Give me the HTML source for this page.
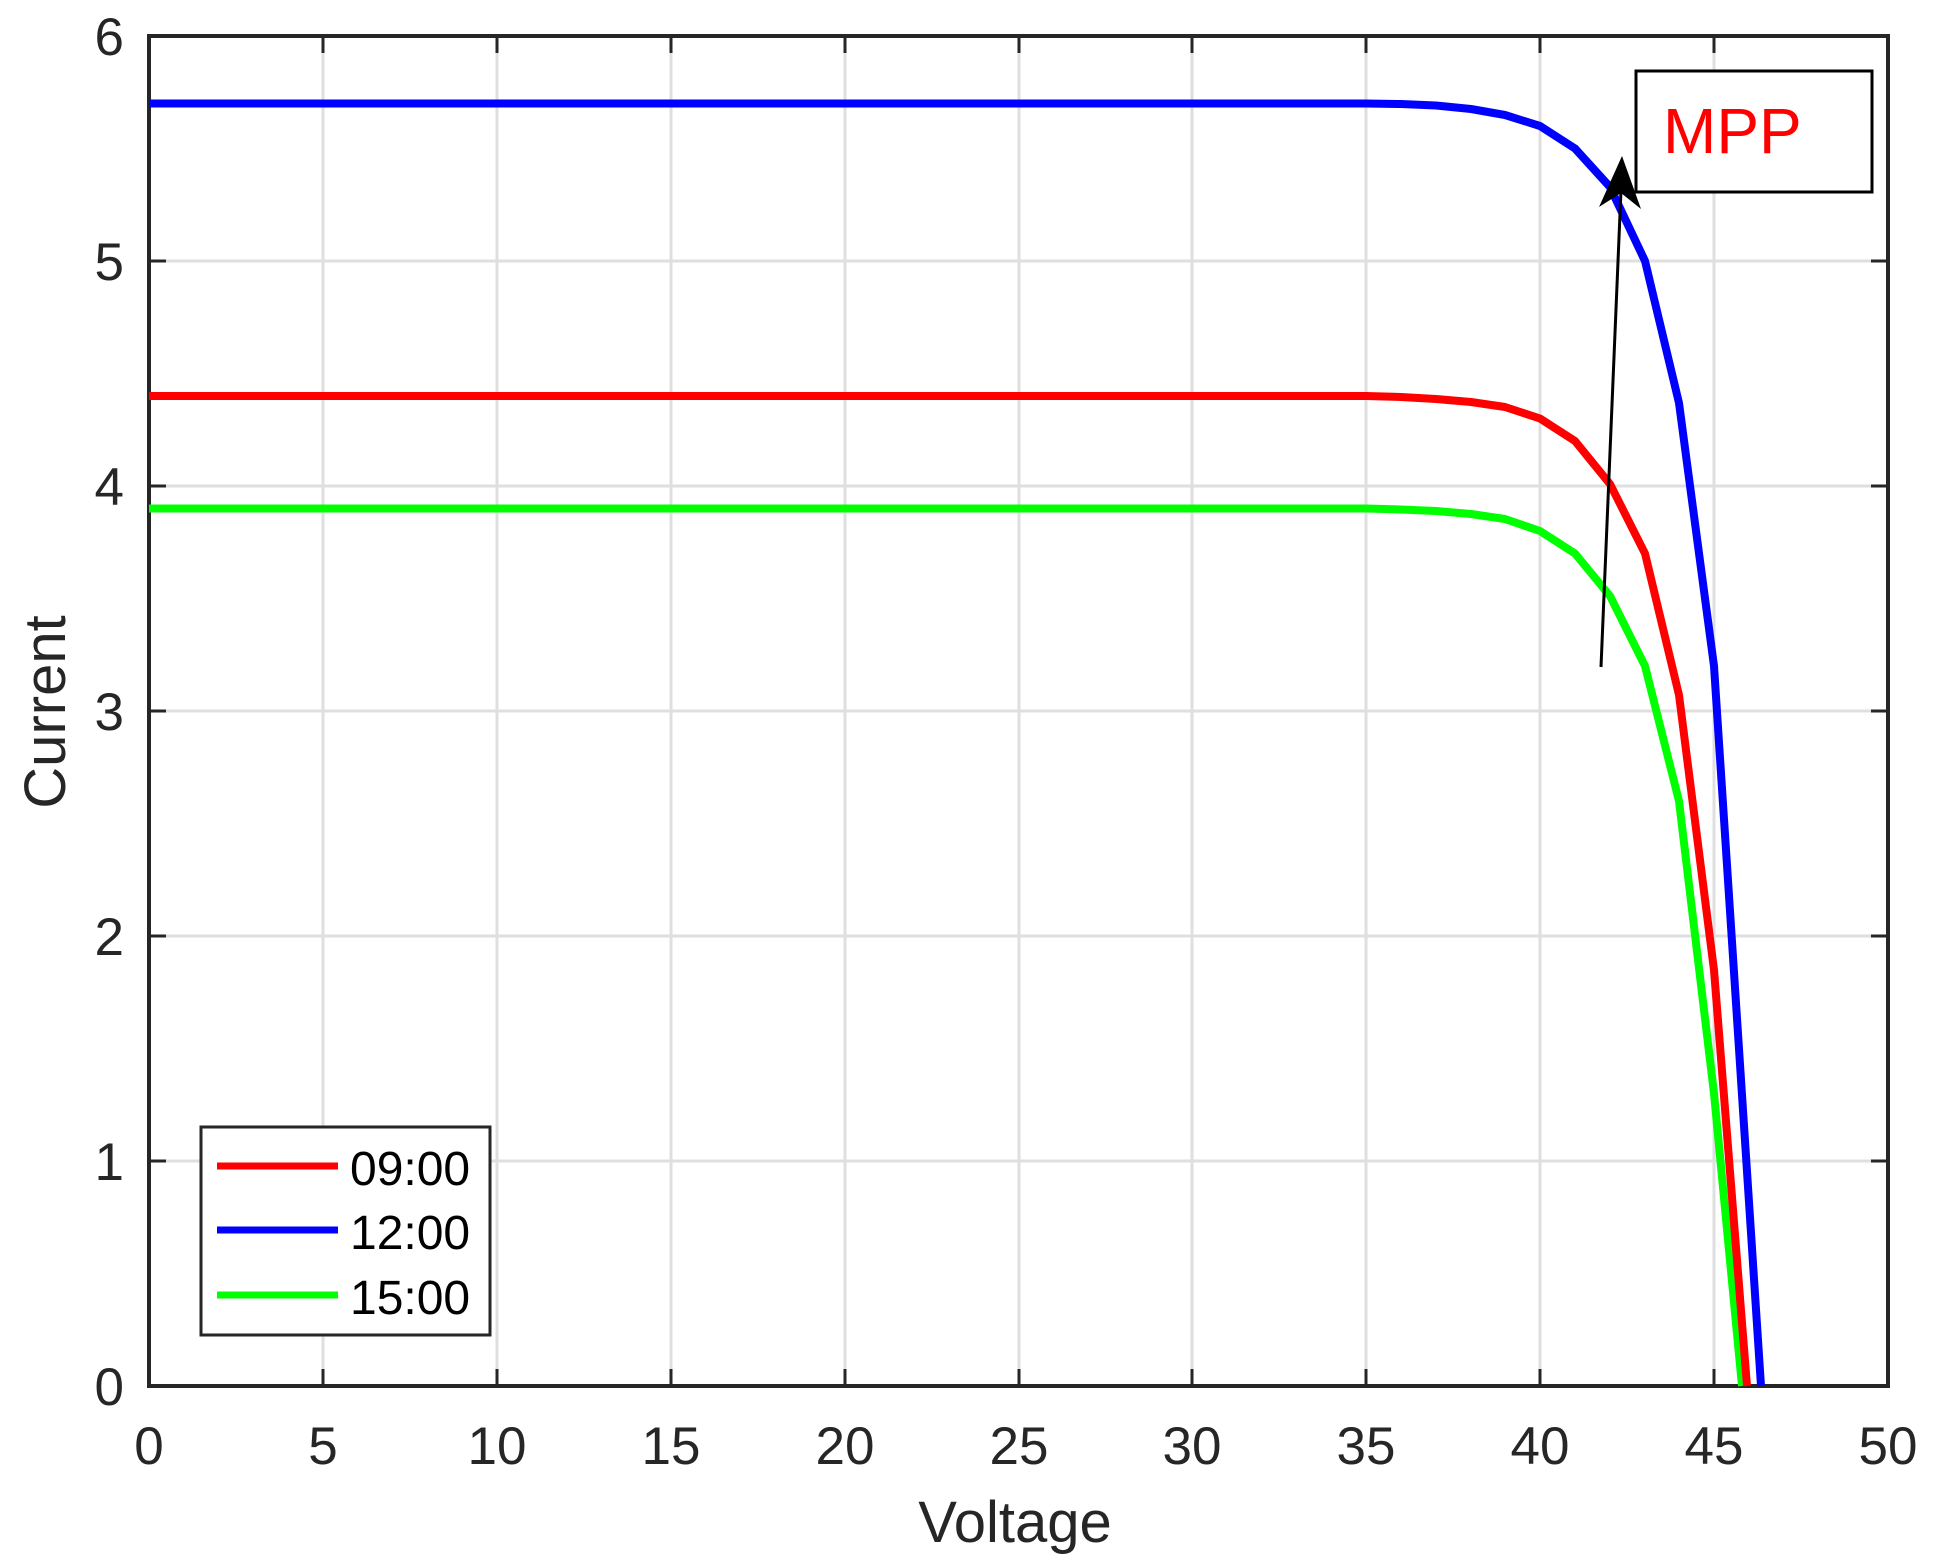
<!DOCTYPE html>
<html><head><meta charset="utf-8"><style>html,body{margin:0;padding:0;background:#fff}svg{display:block}</style></head>
<body>
<svg width="1935" height="1568" viewBox="0 0 1935 1568" xmlns="http://www.w3.org/2000/svg" font-family="Liberation Sans, Arial, sans-serif">
<rect width="1935" height="1568" fill="#fff"/>
<g stroke="#dfdfdf" stroke-width="3">
<line x1="323" y1="36" x2="323" y2="1386"/><line x1="497" y1="36" x2="497" y2="1386"/><line x1="671" y1="36" x2="671" y2="1386"/><line x1="845" y1="36" x2="845" y2="1386"/><line x1="1019" y1="36" x2="1019" y2="1386"/><line x1="1192" y1="36" x2="1192" y2="1386"/><line x1="1366" y1="36" x2="1366" y2="1386"/><line x1="1540" y1="36" x2="1540" y2="1386"/><line x1="1714" y1="36" x2="1714" y2="1386"/>
<line x1="149" y1="1161" x2="1888" y2="1161"/><line x1="149" y1="936" x2="1888" y2="936"/><line x1="149" y1="711" x2="1888" y2="711"/><line x1="149" y1="486" x2="1888" y2="486"/><line x1="149" y1="261" x2="1888" y2="261"/>
</g>
<g stroke="#262626" stroke-width="3">
<line x1="323" y1="1386" x2="323" y2="1369"/><line x1="497" y1="1386" x2="497" y2="1369"/><line x1="671" y1="1386" x2="671" y2="1369"/><line x1="845" y1="1386" x2="845" y2="1369"/><line x1="1019" y1="1386" x2="1019" y2="1369"/><line x1="1192" y1="1386" x2="1192" y2="1369"/><line x1="1366" y1="1386" x2="1366" y2="1369"/><line x1="1540" y1="1386" x2="1540" y2="1369"/><line x1="1714" y1="1386" x2="1714" y2="1369"/>
<line x1="323" y1="36" x2="323" y2="53"/><line x1="497" y1="36" x2="497" y2="53"/><line x1="671" y1="36" x2="671" y2="53"/><line x1="845" y1="36" x2="845" y2="53"/><line x1="1019" y1="36" x2="1019" y2="53"/><line x1="1192" y1="36" x2="1192" y2="53"/><line x1="1366" y1="36" x2="1366" y2="53"/><line x1="1540" y1="36" x2="1540" y2="53"/><line x1="1714" y1="36" x2="1714" y2="53"/>
<line x1="149" y1="1161" x2="166" y2="1161"/><line x1="149" y1="936" x2="166" y2="936"/><line x1="149" y1="711" x2="166" y2="711"/><line x1="149" y1="486" x2="166" y2="486"/><line x1="149" y1="261" x2="166" y2="261"/>
<line x1="1888" y1="1161" x2="1871" y2="1161"/><line x1="1888" y1="936" x2="1871" y2="936"/><line x1="1888" y1="711" x2="1871" y2="711"/><line x1="1888" y1="486" x2="1871" y2="486"/><line x1="1888" y1="261" x2="1871" y2="261"/>
</g>
<rect x="149" y="36" width="1739" height="1350" fill="none" stroke="#262626" stroke-width="4"/>
<g fill="none" stroke-width="8" stroke-linejoin="round">
<polyline stroke="#00ff00" points="149,508.5 1366,508.5 1401,509.5 1436,511 1471,514 1505,519 1540,531 1575,553.5 1610,596 1645,666 1679,801 1714,1093.5 1742,1386"/>
<polyline stroke="#ff0000" points="149,396 1366,396 1401,397 1436,399 1471,402 1505,407 1540,418.5 1575,441 1610,484 1645,553.5 1679,695 1714,970 1747,1386"/>
<polyline stroke="#0000ff" points="149,103.5 1366,103.5 1401,104 1436,105.5 1471,109 1505,115 1540,126 1575,148.5 1610,187 1645,261 1679,403 1714,666 1761,1386"/>
</g>
<line x1="1601" y1="667" x2="1621" y2="190" stroke="#000" stroke-width="3"/>
<polygon points="1622,156 1641,209 1621,193 1599,207" fill="#000"/>
<rect x="1636" y="71" width="236" height="121" fill="#fff" stroke="#000" stroke-width="3"/>
<text x="1663" y="153" font-size="64" fill="#ff0000">MPP</text>
<rect x="201" y="1127" width="289" height="208" fill="#fff" stroke="#262626" stroke-width="3"/>
<line x1="217" y1="1166" x2="338" y2="1166" stroke="#ff0000" stroke-width="7"/>
<line x1="217" y1="1230" x2="338" y2="1230" stroke="#0000ff" stroke-width="7"/>
<line x1="217" y1="1295" x2="338" y2="1295" stroke="#00ff00" stroke-width="7"/>
<g font-size="48" fill="#000">
<text x="350" y="1185">09:00</text><text x="350" y="1249">12:00</text><text x="350" y="1314">15:00</text>
</g>
<g font-size="53" fill="#262626" text-anchor="middle">
<text x="149" y="1464">0</text><text x="323" y="1464">5</text><text x="497" y="1464">10</text><text x="671" y="1464">15</text><text x="845" y="1464">20</text><text x="1019" y="1464">25</text><text x="1192" y="1464">30</text><text x="1366" y="1464">35</text><text x="1540" y="1464">40</text><text x="1714" y="1464">45</text><text x="1888" y="1464">50</text>
</g>
<g font-size="53" fill="#262626" text-anchor="end">
<text x="124" y="1405">0</text><text x="124" y="1180">1</text><text x="124" y="955">2</text><text x="124" y="730">3</text><text x="124" y="505">4</text><text x="124" y="280">5</text><text x="124" y="55">6</text>
</g>
<text x="1015" y="1542" font-size="58" fill="#262626" text-anchor="middle">Voltage</text>
<text transform="translate(65,712) rotate(-90)" font-size="58" fill="#262626" text-anchor="middle">Current</text>
</svg>
</body></html>
